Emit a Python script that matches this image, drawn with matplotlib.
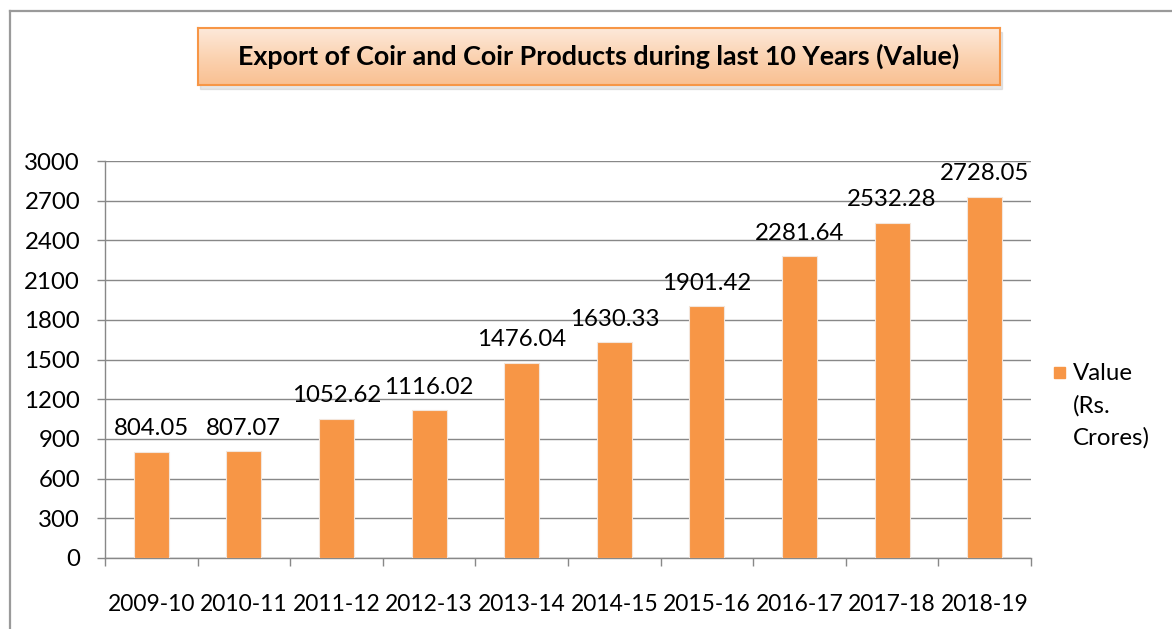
import numpy as np
import matplotlib
matplotlib.use('Agg')
import matplotlib.pyplot as plt
from matplotlib.patches import Rectangle
from matplotlib.lines import Line2D
from matplotlib.colors import LinearSegmentedColormap

years = ['2009-10', '2010-11', '2011-12', '2012-13', '2013-14',
         '2014-15', '2015-16', '2016-17', '2017-18', '2018-19']
values = [804.05, 807.07, 1052.62, 1116.02, 1476.04,
          1630.33, 1901.42, 2281.64, 2532.28, 2728.05]
y_ticks = [0, 300, 600, 900, 1200, 1500, 1800, 2100, 2400, 2700, 3000]
title = 'Export of Coir and Coir Products during last 10 Years (Value)'
legend_label = 'Value\n(Rs.\nCrores)'

BAR = '#F79646'
GRID = '#888888'
W, H = 1172, 629
FS = 17.3

plt.rcParams['font.family'] = ['Lato', 'DejaVu Sans']

fig = plt.figure(figsize=(W / 100, H / 100), dpi=100)

# outer frame (only top and left visible in the crop)
fig.add_artist(Line2D([10 / W, 10 / W], [0, 1 - 11 / H], color='#9a9a9a', lw=1.6))
fig.add_artist(Line2D([10 / W, 1], [1 - 11 / H, 1 - 11 / H], color='#9a9a9a', lw=1.6))

ax = fig.add_axes([105 / W, 1 - 558 / H, (1031 - 105) / W, (558 - 161) / H])
x = np.arange(len(years))
bars = ax.bar(x, values, width=0.38, color=BAR, edgecolor='#f3e6dc', linewidth=0.8, zorder=3)
ax.bar_label(bars, labels=[f'{v:.2f}' for v in values], padding=9, fontsize=FS, color='black')

ax.set_xlim(-0.5, len(years) - 0.5)
ax.set_ylim(0, 3000)
ax.set_yticks(y_ticks)
ax.set_yticklabels([str(t) for t in y_ticks], fontsize=FS)
ax.yaxis.grid(True, color=GRID, lw=1.0, zorder=0)
ax.tick_params(axis='y', length=6, width=1, color=GRID, pad=12)

ax.set_xticks(x)
ax.set_xticklabels(years, fontsize=16.4)
ax.set_xticks(np.arange(-0.5, len(years)), minor=True)
ax.tick_params(axis='x', which='major', length=0, pad=26)
ax.tick_params(axis='x', which='minor', length=6, width=1, color=GRID)

for side in ['top', 'right']:
    ax.spines[side].set_visible(False)
for side in ['left', 'bottom']:
    ax.spines[side].set_color(GRID)
    ax.spines[side].set_linewidth(1.0)

# legend drawn by hand so the swatch sits on the first line
fig.add_artist(Rectangle((1054 / W, 1 - 378 / H), 11 / W, 11 / H, color=BAR,
                         transform=fig.transFigure))
fig.text(1073 / W, 1 - 363 / H, legend_label, fontsize=FS, va='top', ha='left',
         linespacing=1.62)

# title box with shadow and gradient
bx0, by0, bx1, by1 = 198, 28, 1000, 85
fig.add_artist(Rectangle(((bx0 + 2) / W, 1 - (by1 + 4) / H), (bx1 - bx0) / W, (by1 - by0) / H,
                         color='#b8b8b8', alpha=0.35, transform=fig.transFigure, zorder=1))
tax = fig.add_axes([bx0 / W, 1 - by1 / H, (bx1 - bx0) / W, (by1 - by0) / H], zorder=2)
cmap = LinearSegmentedColormap.from_list('t', ['#fde9da', '#fbd3b2', '#f9c092'])
tax.imshow(np.linspace(0, 1, 100).reshape(-1, 1), aspect='auto', cmap=cmap,
           extent=[0, 1, 0, 1], origin='upper')
tax.set_xticks([])
tax.set_yticks([])
for s in tax.spines.values():
    s.set_color('#f79646')
    s.set_linewidth(1.5)
tax.text(0.5, 0.5, title, ha='center', va='center', fontsize=19.4, fontweight='bold',
         transform=tax.transAxes)

fig.savefig('out.png', dpi=100)
